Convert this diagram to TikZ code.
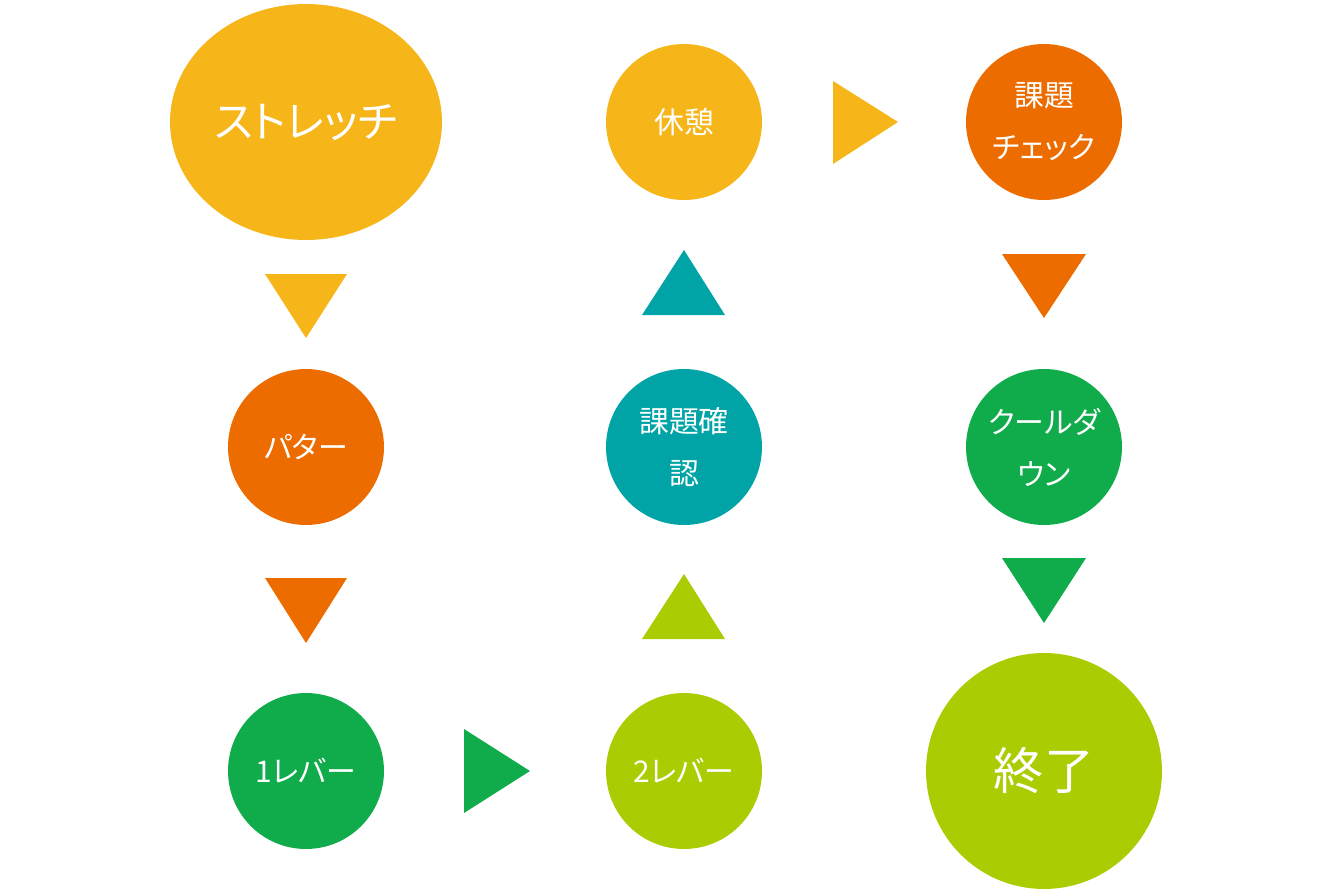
\documentclass[tikz,border=0pt]{standalone}
\usepackage{fontspec}
\setmainfont{Noto Sans CJK JP}[RawFeature=+palt]
\usepackage{tikz}
\usetikzlibrary{positioning,shapes.geometric}
\usepackage{xcolor}

\definecolor{yel}{HTML}{F6B519}
\definecolor{ora}{HTML}{EC6C00}
\definecolor{gre}{HTML}{10AB4B}
\definecolor{lim}{HTML}{AACC03}
\definecolor{tea}{HTML}{00A4A6}

\tikzset{
  maru/.style={circle, minimum size=3.12cm, inner sep=0pt, text=white, align=center,
    font=\fontsize{17}{29.5}\selectfont},
}

\begin{document}
\begin{tikzpicture}[x=0.02cm, y=-0.02cm]
            \useasboundingbox (0,0) rectangle (1333,893);

            % スタート
            \node[ellipse, fill=yel, minimum width=5.44cm, minimum height=4.72cm, inner sep=0pt,
              text=white, font=\fontsize{24.5}{28}\selectfont] (stretch) at (306,122) {ストレッチ};
            \fill[yel] (265,274) -- (347,274) -- (306,338) -- cycle;

            % 左の列
            \node[maru, fill=ora] (putter) at (306,447) {パター};
            \fill[ora] (265,578) -- (347,578) -- (306,643) -- cycle;
            \node[maru, fill=gre] (lever1) at (306,771) {1レバー};
            \fill[gre] (464,729) -- (464,813) -- (530,771) -- cycle;

            % 中央の列
            \node[maru, fill=lim] (lever2) at (684,771) {2レバー};
            \fill[lim] (642,639) -- (725,639) -- (684,574) -- cycle;
            \node[maru, fill=tea] (kakunin) at (684,447) {課題確\\認};
            \fill[tea] (642,315) -- (725,315) -- (684,250) -- cycle;
            \node[maru, fill=yel] (kyukei) at (684,122) {休憩};
            \fill[yel] (833,81) -- (833,164) -- (898,122) -- cycle;

            % 右の列
            \node[maru, fill=ora] (check) at (1044,122) {課題\\チェック};
            \fill[ora] (1002,254) -- (1086,254) -- (1044,318) -- cycle;
            \node[maru, fill=gre] (cooldown) at (1044,447) {クールダ\\ウン};
            \fill[gre] (1002,558) -- (1086,558) -- (1044,623) -- cycle;
            \node[maru, fill=lim, minimum size=4.72cm, font=\fontsize{28.5}{32}\selectfont] (owari) at (1044,771) {終了};
        \end{tikzpicture}
\end{document}
